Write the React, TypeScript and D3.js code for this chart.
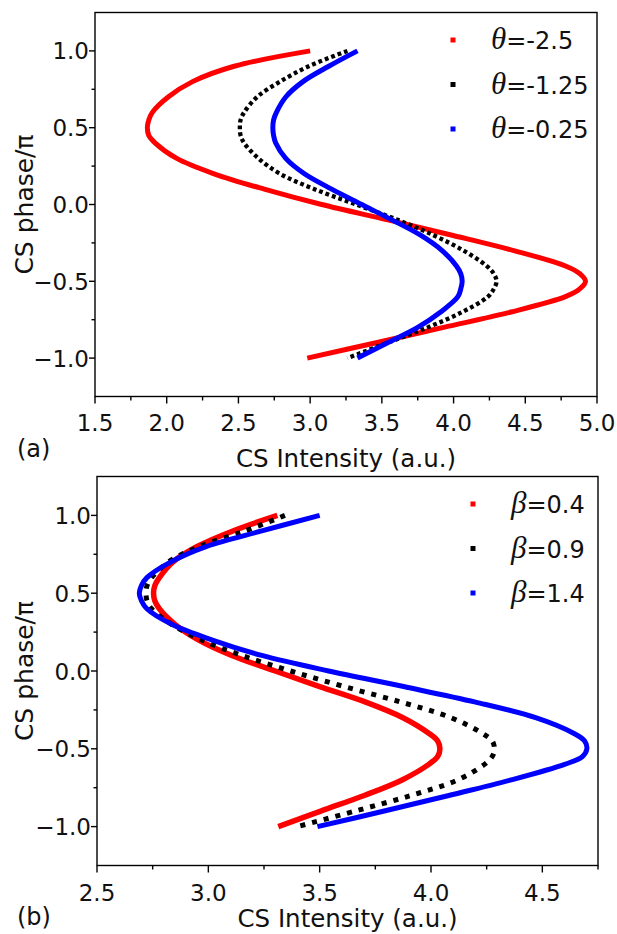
import React from 'react';
import * as d3 from 'd3';

// ---- data (CS phase / pi  ->  CS intensity) ----
const phases = [1.0, 0.9, 0.8, 0.7, 0.6, 0.55, 0.5, 0.45, 0.4, 0.3, 0.2, 0.1, 0.0, -0.1, -0.2, -0.3, -0.4, -0.45, -0.5, -0.55, -0.6, -0.7, -0.8, -0.9, -1.0];

// panel (a)
const thetaM25 = [3.0, 2.47, 2.18, 2.01, 1.9, 1.875, 1.865, 1.875, 1.92, 2.07, 2.33, 2.68, 3.08, 3.54, 3.99, 4.42, 4.78, 4.88, 4.92, 4.88, 4.78, 4.4, 3.93, 3.46, 2.98];
const thetaM125 = [3.26, 2.99, 2.79, 2.63, 2.54, 2.515, 2.51, 2.515, 2.54, 2.64, 2.79, 3.03, 3.32, 3.61, 3.86, 4.07, 4.23, 4.28, 4.3, 4.28, 4.24, 4.06, 3.82, 3.54, 3.26];
const thetaM025 = [3.33, 3.13, 2.95, 2.83, 2.765, 2.745, 2.74, 2.745, 2.76, 2.83, 2.96, 3.15, 3.36, 3.57, 3.77, 3.92, 4.02, 4.05, 4.06, 4.05, 4.03, 3.91, 3.75, 3.54, 3.33];

// panel (b)
const beta04 = [3.31, 3.11, 2.95, 2.84, 2.78, 2.76, 2.754, 2.76, 2.78, 2.85, 2.955, 3.105, 3.3, 3.5, 3.707, 3.874, 3.99, 4.03, 4.04, 4.03, 3.99, 3.87, 3.7, 3.505, 3.314];
const beta09 = [3.344, 3.165, 2.96, 2.82, 2.745, 2.725, 2.72, 2.725, 2.745, 2.835, 2.97, 3.15, 3.37, 3.61, 3.866, 4.09, 4.23, 4.275, 4.285, 4.275, 4.24, 4.12, 3.91, 3.66, 3.4];
const beta14 = [3.5, 3.24, 2.99, 2.83, 2.724, 2.7, 2.69, 2.7, 2.724, 2.836, 3.015, 3.24, 3.54, 3.877, 4.2, 4.47, 4.64, 4.69, 4.7, 4.68, 4.6, 4.36, 4.08, 3.79, 3.49];

const xTicksA = [1.5, 2.0, 2.5, 3.0, 3.5, 4.0, 4.5, 5.0];
const xMinorA = [1.75, 2.25, 2.75, 3.25, 3.75, 4.25, 4.75];
const xTicksB = [2.5, 3.0, 3.5, 4.0, 4.5];
const xMinorB = [2.75, 3.25, 3.75, 4.25, 4.75];
const yTicks = [-1.0, -0.5, 0.0, 0.5, 1.0];
const yMinor = [-0.75, -0.25, 0.25, 0.75];

const labelsA = ['=-2.5', '=-1.25', '=-0.25'];
const labelsB = ['=0.4', '=0.9', '=1.4'];
const colors = ['#ff0000', '#000000', '#0000ff'];

const SANS = '"DejaVu Sans", sans-serif';
const SERIF = '"Liberation Serif", "DejaVu Serif", serif';

type Series = { values: number[]; color: string; dotted: boolean; width: number; dash: string };

type PanelProps = {
  left: number; right: number; top: number; bottom: number;
  xDomain: [number, number];
  xTicks: number[]; xMinor: number[];
  series: Series[];
  greek: string; labels: string[];
  legendX: number;
  letter: string;
  tickBaseline: number; titleBaseline: number; letterBaseline: number;
};

function Panel(p: PanelProps) {
  const x = d3.scaleLinear().domain(p.xDomain).range([p.left, p.right]);
  const y = d3.scaleLinear().domain([-1.25, 1.25]).range([p.bottom, p.top]);
  const line = d3
    .line<number>()
    .x((v) => x(v))
    .y((_, i) => y(phases[i]))
    .curve(d3.curveCatmullRom.alpha(0.5));
  const fmt = d3.format('.1f');
  const midY = (p.top + p.bottom) / 2;
  const midX = (p.left + p.right) / 2;
  const legendY0 = p.top + 27.5;
  const legendStep = 44.5;
  return (
    <g>
      {p.series.map((s, k) => (
        <path
          key={k}
          d={line(s.values) || ''}
          fill="none"
          stroke={s.color}
          strokeWidth={s.width}
          strokeDasharray={s.dotted ? s.dash : undefined}
          strokeLinecap="butt"
          strokeLinejoin="round"
        />
      ))}
      <rect x={p.left} y={p.top} width={p.right - p.left} height={p.bottom - p.top} fill="none" stroke="#000" strokeWidth={1.4} />
      {p.xTicks.map((t) => (
        <g key={'xt' + t}>
          <line x1={x(t)} x2={x(t)} y1={p.bottom} y2={p.bottom + 7} stroke="#000" strokeWidth={1.4} />
          <text x={x(t)} y={p.tickBaseline} textAnchor="middle" fontFamily={SANS} fontSize={23} fill="#111">
            {fmt(t)}
          </text>
        </g>
      ))}
      {p.xMinor.map((t) => (
        <line key={'xm' + t} x1={x(t)} x2={x(t)} y1={p.bottom} y2={p.bottom + 4} stroke="#000" strokeWidth={1.4} />
      ))}
      {yTicks.map((t) => (
        <g key={'yt' + t}>
          <line x1={p.left - 6} x2={p.left} y1={y(t)} y2={y(t)} stroke="#000" strokeWidth={1.4} />
          <text x={p.left - 6} y={y(t) + 8.5} textAnchor="end" fontFamily={SANS} fontSize={23} fill="#111">
            {fmt(t)}
          </text>
        </g>
      ))}
      {yMinor.map((t) => (
        <line key={'ym' + t} x1={p.left - 3.5} x2={p.left} y1={y(t)} y2={y(t)} stroke="#000" strokeWidth={1.4} />
      ))}
      <text x={midX} y={p.titleBaseline} textAnchor="middle" fontFamily={SANS} fontSize={24.5} fill="#111">
        CS Intensity (a.u.)
      </text>
      <text transform={`translate(33,${midY}) rotate(-90)`} textAnchor="middle" fontFamily={SANS} fontSize={25} fill="#111">
        CS phase/π
      </text>
      <text x={17} y={p.letterBaseline} fontFamily={SANS} fontSize={24} fill="#111">
        {p.letter}
      </text>
      {p.labels.map((lab, k) => {
        const ly = legendY0 + k * legendStep;
        return (
          <g key={'lg' + k}>
            <rect x={p.legendX - 2.5} y={ly - 2.5} width={5} height={5} fill={colors[k]} />
            <text x={p.legendX + 38} y={ly + 9} fontFamily={SANS} fontSize={24} fill="#111">
              <tspan fontFamily={SERIF} fontStyle="italic" fontSize={31}>
                {p.greek}
              </tspan>
              <tspan>{lab}</tspan>
            </text>
          </g>
        );
      })}
    </g>
  );
}

export default function App() {
  const seriesA: Series[] = [
    { values: thetaM25, color: colors[0], dotted: false, width: 5, dash: '' },
    { values: thetaM125, color: colors[1], dotted: true, width: 4.3, dash: '3.8 3' },
    { values: thetaM025, color: colors[2], dotted: false, width: 5, dash: '' },
  ];
  const seriesB: Series[] = [
    { values: beta04, color: colors[0], dotted: false, width: 5.5, dash: '' },
    { values: beta09, color: colors[1], dotted: true, width: 5, dash: '5 7' },
    { values: beta14, color: colors[2], dotted: false, width: 5, dash: '' },
  ];
  return (
    <svg
      width={617}
      height={934}
      viewBox="0 0 617 934"
      style={{ position: 'absolute', left: 0, top: 0, background: '#fff' }}
    >
      <rect x={0} y={0} width={617} height={934} fill="#fff" />
      <Panel
        left={95} right={597} top={12.5} bottom={396.5}
        xDomain={[1.5, 5.0]} xTicks={xTicksA} xMinor={xMinorA}
        series={seriesA} greek="θ" labels={labelsA} legendX={453}
        letter="(a)" tickBaseline={431} titleBaseline={467} letterBaseline={457}
      />
      <Panel
        left={97} right={598} top={476.5} bottom={865.5}
        xDomain={[2.5, 4.75]} xTicks={xTicksB} xMinor={xMinorB}
        series={seriesB} greek="β" labels={labelsB} legendX={473}
        letter="(b)" tickBaseline={901} titleBaseline={927} letterBaseline={925}
      />
    </svg>
  );
}
